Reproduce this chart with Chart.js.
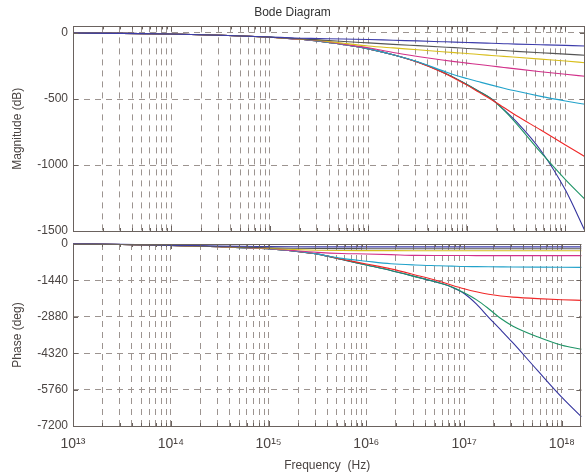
<!DOCTYPE html>
<html>
<head>
<meta charset="utf-8">
<script src="https://cdn.jsdelivr.net/npm/chart.js@4.4.0/dist/chart.umd.min.js"></script>
<style>
html,body{margin:0;padding:0;background:#fff;}
#wrap{position:relative;width:585px;height:476px;overflow:hidden;}
canvas{position:absolute;left:0;top:0;}
</style>
</head>
<body>
<div id="wrap">
<canvas id="mag" width="585" height="476"></canvas>
<canvas id="ph" width="585" height="476"></canvas>
</div>
<script>
// ---- data ----
const freqHz = [1e13, 3.16e13, 1e14, 3.16e14, 1e15, 1.78e15, 3.16e15, 5.62e15, 1e16, 1.78e16, 3.16e16, 5.62e16, 7.5e16, 1e17, 1.33e17, 1.78e17, 2.37e17, 3.16e17, 5.62e17, 1e18, 1.58e18];

// magnitude (dB)
const magBlue    = [0, -3, -8, -17, -30, -38, -42, -46, -49, -55, -60, -66, -69, -72, -75, -78, -81, -84, -89, -94, -98];
const magBlack   = [0, -3, -8, -17, -31, -42, -52, -64, -75, -86, -96, -106, -111, -117, -122, -128, -133, -139, -150, -160, -169];
const magYellow  = [0, -3, -8, -17, -32, -44, -56, -78, -98, -113, -127, -142, -149, -155, -163, -170, -177, -184, -198, -212, -225];
const magMagenta = [0, -3, -8, -17, -32, -45, -58, -85, -112, -148, -178, -205, -217, -228, -239, -250, -261, -272, -293, -313, -328];
const magCyan    = [0, -3, -8, -17, -32, -45, -62, -88, -120, -165, -218, -285, -318, -345, -370, -395, -418, -440, -480, -515, -540];
const magRed     = [0, -3, -8, -17, -32, -45, -62, -88, -120, -165, -222, -298, -345, -395, -450, -505, -565, -625, -735, -849, -937];
const magGreen   = [0, -3, -8, -17, -32, -45, -62, -88, -120, -165, -220, -295, -340, -390, -443, -500, -585, -685, -905, -1110, -1260];
const magNavy    = [0, -3, -8, -17, -32, -45, -62, -88, -120, -165, -220, -295, -340, -390, -443, -500, -580, -670, -890, -1190, -1500];

// phase (deg)
const phBlue    = [0, -15, -45, -80, -100, -108, -112, -114, -115, -115, -115, -115, -115, -115, -115, -115, -115, -115, -115, -115, -115];
const phBlack   = [0, -20, -55, -100, -150, -170, -180, -184, -185, -185, -185, -185, -185, -185, -185, -185, -185, -185, -185, -185, -185];
const phYellow  = [0, -20, -60, -110, -170, -215, -245, -258, -262, -264, -265, -265, -265, -265, -265, -265, -265, -265, -265, -265, -265];
const phMagenta = [0, -20, -60, -110, -180, -260, -330, -375, -395, -420, -450, -455, -456, -457, -458, -458, -459, -460, -460, -461, -461];
const phCyan    = [0, -20, -60, -110, -190, -280, -400, -570, -680, -780, -830, -860, -875, -890, -895, -900, -904, -908, -915, -920, -923];
const phRed     = [0, -20, -60, -110, -190, -280, -400, -600, -790, -985, -1225, -1480, -1630, -1770, -1890, -1990, -2055, -2100, -2160, -2205, -2229];
const phGreen   = [0, -20, -60, -110, -190, -280, -400, -610, -834, -1047, -1291, -1545, -1700, -1930, -2200, -2560, -2950, -3250, -3670, -4005, -4166];
const phNavy    = [0, -20, -60, -110, -190, -280, -400, -610, -834, -1047, -1291, -1545, -1710, -1960, -2370, -2900, -3400, -3915, -5000, -6066, -6832];

// ticks
const xDecades = [1e13, 1e14, 1e15, 1e16, 1e17, 1e18];
const xTickLabels = ['10\u00B9\u00B3', '10\u00B9\u2074', '10\u00B9\u2075', '10\u00B9\u2076', '10\u00B9\u2077', '10\u00B9\u2078'];
const magTicks = [0, -500, -1000, -1500];
const phaseTicks = [0, -1440, -2880, -4320, -5760, -7200];

// ---- styling ----
const FONT = "'Liberation Sans', Arial, Helvetica, sans-serif";
Chart.defaults.font.family = FONT;
const axisColor = '#6a625e';
const gridColor = '#9c9490';
const textColor = '#4a4442';
const X_MIN = 1e13, X_MAX = 1.58e18;

const colors = {
  blue: '#3c3caa', black: '#555555', yellow: '#d8be1c', magenta: '#d2308a',
  cyan: '#22a2ca', red: '#f02828', green: '#1e9466', navy: '#34349e'
};

function pts(vals) { return freqHz.map((f, i) => ({x: f, y: vals[i]})); }
function ds(vals, col) {
  return {data: pts(vals), borderColor: col, backgroundColor: col, borderWidth: 1.1,
          pointRadius: 0, cubicInterpolationMode: 'monotone', fill: false, clip: 3};
}

// all gridline positions: k * 10^n
const xGrid = [];
xDecades.forEach(d => { for (let k = 1; k <= 9; k++) { const v = k * d; if (v >= X_MIN && v <= X_MAX) xGrid.push(v); } });

function labelFor(v) {
  const i = xDecades.findIndex(d => Math.abs(d - v) / d < 1e-9);
  return i >= 0 ? xTickLabels[i] : '';
}

const boxPlugin = {
  id: 'box',
  afterDatasetsDraw(chart) {
    const {ctx, chartArea: a, scales} = chart;
    ctx.save();
    ctx.strokeStyle = axisColor;
    ctx.lineWidth = 1;
    const xs = scales.x;
    xGrid.forEach(v => {
      const px = Math.round(xs.getPixelForValue(v)) + 0.5;
      const isMaj = labelFor(v) !== '';
      const len = isMaj ? 5 : 3;
      ctx.beginPath();
      ctx.moveTo(px, a.bottom); ctx.lineTo(px, a.bottom - len);
      ctx.moveTo(px, a.top); ctx.lineTo(px, a.top + len);
      ctx.stroke();
    });
    const ys = scales.y;
    ys.ticks.forEach(t => {
      const py = Math.round(ys.getPixelForValue(t.value)) + 0.5;
      ctx.beginPath();
      ctx.moveTo(a.left, py); ctx.lineTo(a.left + 5, py);
      ctx.moveTo(a.right, py); ctx.lineTo(a.right - 5, py);
      ctx.stroke();
    });
    ctx.strokeRect(Math.round(a.left) + 0.5, Math.round(a.top) + 0.5,
                   Math.round(a.right - a.left) - 1, Math.round(a.bottom - a.top));
    ctx.restore();
  }
};

function xScale(showLabels) {
  return {
    type: 'logarithmic', min: X_MIN, max: X_MAX,
    afterBuildTicks: s => { s.ticks = xGrid.map(v => ({value: v})); },
    afterFit: s => { s.height = showLabels ? 50 : 0; },
    grid: {color: gridColor, lineWidth: 1, drawTicks: false, borderDash: [6, 5]},
    border: {display: false, dash: [6, 5]},
    ticks: {
      display: showLabels, autoSkip: false, maxRotation: 0, padding: 10,
      color: textColor, font: {size: 14},
      callback: v => labelFor(v)
    },
    title: {display: showLabels, text: 'Frequency  (Hz)', color: textColor,
            font: {size: 12}, padding: {top: 0, bottom: 3}}
  };
}

function yScale(min, max, tickVals, titleText) {
  return {
    type: 'linear', min: min, max: max,
    afterBuildTicks: s => { s.ticks = tickVals.map(v => ({value: v})); },
    afterFit: s => { s.width = 73; },
    grid: {color: gridColor, lineWidth: 1, drawTicks: false, borderDash: [6, 5]},
    border: {display: false, dash: [6, 5]},
    ticks: {color: textColor, font: {size: 12}, padding: 5, callback: v => String(v)},
    title: {display: true, text: titleText, color: textColor, font: {size: 12},
            padding: {top: 10, bottom: 0}}
  };
}

const commonOpts = {
  responsive: false, animation: false, devicePixelRatio: 1,
  plugins: {legend: {display: false}, tooltip: {enabled: false}}
};

new Chart(document.getElementById('mag'), {
  type: 'line',
  data: {datasets: [
    ds(magBlue, colors.blue), ds(magBlack, colors.black), ds(magYellow, colors.yellow),
    ds(magMagenta, colors.magenta), ds(magCyan, colors.cyan), ds(magRed, colors.red),
    ds(magGreen, colors.green), ds(magNavy, colors.navy)
  ]},
  options: Object.assign({}, commonOpts, {
    layout: {padding: {top: 0, bottom: 245, left: 0, right: 0}},
    plugins: {
      legend: {display: false}, tooltip: {enabled: false},
      title: {display: true, text: 'Bode Diagram', color: '#333', font: {size: 12, weight: 'normal'},
              padding: {top: 5, bottom: 7}}
    },
    scales: {x: xScale(false), y: yScale(-1500, 50, magTicks, 'Magnitude (dB)')}
  }),
  plugins: [boxPlugin]
});

new Chart(document.getElementById('ph'), {
  type: 'line',
  data: {datasets: [
    ds(phBlue, colors.blue), ds(phBlack, colors.black), ds(phYellow, colors.yellow),
    ds(phMagenta, colors.magenta), ds(phCyan, colors.cyan), ds(phRed, colors.red),
    ds(phGreen, colors.green), ds(phNavy, colors.navy)
  ]},
  options: Object.assign({}, commonOpts, {
    layout: {padding: {top: 244, bottom: 0, left: 0, right: 0}},
    scales: {x: xScale(true), y: yScale(-7200, 0, phaseTicks, 'Phase (deg)')}
  }),
  plugins: [boxPlugin]
});
</script>
</body>
</html>
